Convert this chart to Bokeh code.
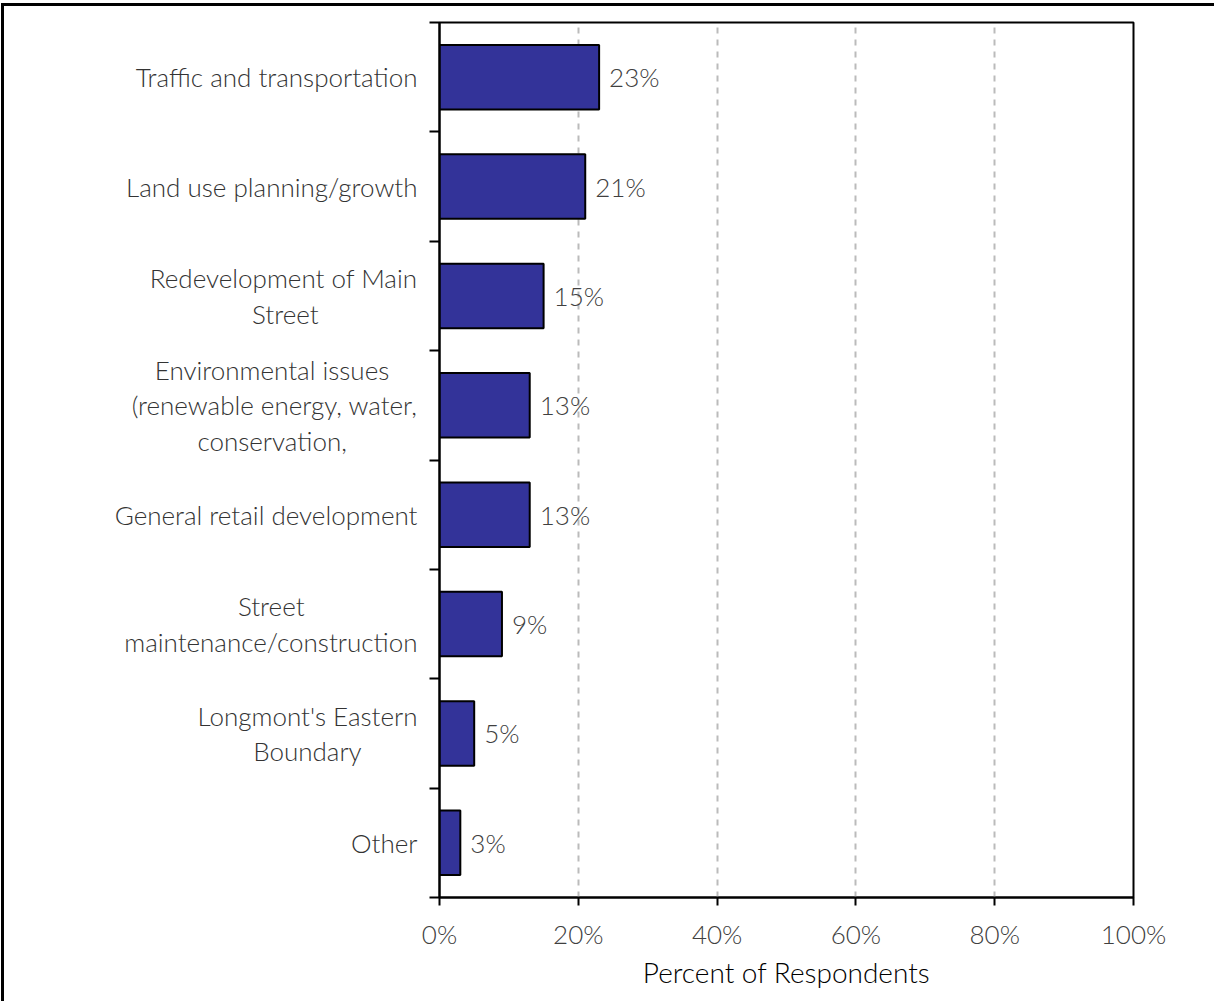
from bokeh.plotting import figure
from bokeh.models import FixedTicker, ColumnDataSource, Range1d
from bokeh.core.properties import value
from bokeh.embed import file_html
from bokeh.resources import INLINE

NB = "\u00a0"
categories = [
    "Traffic and transportation",
    "Land use planning/growth",
    "Redevelopment of Main\nStreet" + NB * 14,
    "Environmental issues" + NB * 4 + "\n(renewable energy, water,\nconservation," + NB * 10,
    "General retail development",
    "Street" + NB * 16 + "\nmaintenance/construction",
    "Longmont's Eastern\nBoundary" + NB * 8,
    "Other",
]
values = [23, 21, 15, 13, 13, 9, 5, 3]
x_ticks = [0, 20, 40, 60, 80, 100]
x_tick_labels = ["0%", "20%", "40%", "60%", "80%", "100%"]
grid_ticks = [20, 40, 60, 80]

FONT = "Lato Light"
FS = "26px"
n = len(categories)
ypos = [n - 0.5 - i for i in range(n)]
src = ColumnDataSource(dict(y=ypos, v=values, lab=[f"{v}%" for v in values]))

p = figure(width=1213, height=998, x_range=Range1d(0, 100), y_range=Range1d(0, n),
           output_backend="svg", toolbar_location=None,
           min_border_left=435, min_border_top=16, min_border_right=84, min_border_bottom=107)
p.styles = {"border-left": "3px solid black", "border-top": "3px solid black",
            "margin-left": "1px", "margin-top": "3px"}

p.hbar(y="y", right="v", left=0, height=0.59, source=src,
       fill_color="#333399", line_color="black", line_width=2)
p.text(x="v", y="y", text="lab", source=src, x_offset=10, text_align="left",
       text_baseline="middle", text_font=value(FONT), text_font_size=FS,
       text_color="#404040")

p.outline_line_color = "black"
p.outline_line_width = 2

# y axis
p.yaxis.ticker = FixedTicker(ticks=ypos, minor_ticks=list(range(n + 1)))
p.yaxis.major_label_overrides = {y: c for y, c in zip(ypos, categories)}
p.yaxis.major_tick_out = 0
p.yaxis.major_tick_in = 0
p.yaxis.minor_tick_out = 10
p.yaxis.minor_tick_in = 0
p.yaxis.minor_tick_line_color = "black"
p.yaxis.minor_tick_line_width = 2
p.yaxis.axis_line_color = "black"
p.yaxis.axis_line_width = 2
p.yaxis.major_label_standoff = 12
p.yaxis.major_label_text_font = FONT
p.yaxis.major_label_text_font_size = FS
p.yaxis.major_label_text_color = "#333333"
p.yaxis.major_label_text_line_height = 1.1

# x axis
p.xaxis.ticker = FixedTicker(ticks=x_ticks, minor_ticks=[])
p.xaxis.major_label_overrides = {t: l for t, l in zip(x_ticks, x_tick_labels)}
p.xaxis.major_tick_out = 8
p.xaxis.major_tick_in = 0
p.xaxis.major_tick_line_color = "black"
p.xaxis.major_tick_line_width = 2
p.xaxis.axis_line_color = "black"
p.xaxis.axis_line_width = 2
p.xaxis.major_label_standoff = 12
p.xaxis.major_label_text_font = FONT
p.xaxis.major_label_text_font_size = FS
p.xaxis.major_label_text_color = "#404040"
p.xaxis.axis_label = "Percent of Respondents"
p.xaxis.axis_label_text_font = FONT
p.xaxis.axis_label_text_font_style = "normal"
p.xaxis.axis_label_text_font_size = "28px"
p.xaxis.axis_label_text_color = "black"
p.xaxis.axis_label_standoff = 2

p.xgrid.ticker = FixedTicker(ticks=grid_ticks)
p.xgrid.grid_line_color = "#bbbbbb"
p.xgrid.grid_line_width = 2
p.xgrid.grid_line_dash = "6 6"
p.ygrid.visible = False

open("out.html", "w").write(file_html(p, INLINE))
